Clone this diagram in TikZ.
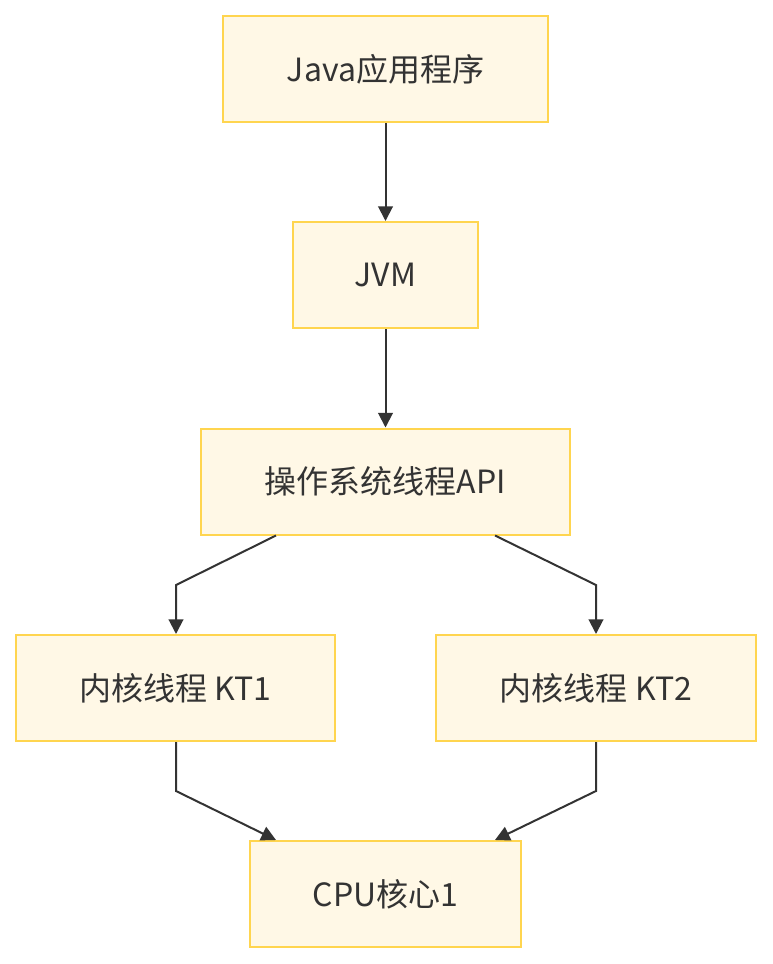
\documentclass[tikz,border=0pt]{standalone}
\usepackage{fontspec}
\setmainfont{Noto Sans CJK SC}
\usetikzlibrary{arrows.meta}
\definecolor{boxfill}{HTML}{FFF8E6}
\definecolor{boxline}{HTML}{FFD54F}
\definecolor{edge}{HTML}{333333}
\begin{document}
\begin{tikzpicture}[x=0.75pt,y=-0.75pt,
  box/.style={draw=boxline,fill=boxfill,line width=1.5pt,minimum height=106*0.75pt,inner sep=0pt,font=\fontsize{24}{28}\selectfont,text=edge},
  conn/.style={draw=edge,line width=1.5pt,-{Triangle[length=11pt,width=11pt]}}]
\useasboundingbox (0,0) rectangle (772,964);
\node[box,minimum width=325*0.75pt] (java) at (385.5,69) {Java应用程序};
\node[box,minimum width=185*0.75pt] (jvm) at (385.5,275) {JVM};
\node[box,minimum width=369*0.75pt] (api) at (385.5,481.5) {操作系统线程API};
\node[box,minimum width=319*0.75pt] (kt1) at (175.5,688) {内核线程 KT1};
\node[box,minimum width=320*0.75pt] (kt2) at (596,688) {内核线程 KT2};
\node[box,minimum width=271*0.75pt] (cpu) at (385.5,894) {CPU核心1};
\coordinate (b1) at (176,585);
\coordinate (b2) at (596,585);
\coordinate (b3) at (176,791);
\coordinate (b4) at (596,791);
\draw[conn] (java) -- (jvm);
\draw[conn] (jvm) -- (api);
\draw[conn] (api.south -| 276,0) -- (b1) -- (kt1.north -| b1);
\draw[conn] (api.south -| 495,0) -- (b2) -- (kt2.north -| b2);
\draw[conn] (kt1.south -| b3) -- (b3) -- (cpu.north -| 276,0);
\draw[conn] (kt2.south -| b4) -- (b4) -- (cpu.north -| 495,0);
\end{tikzpicture}
\end{document}
